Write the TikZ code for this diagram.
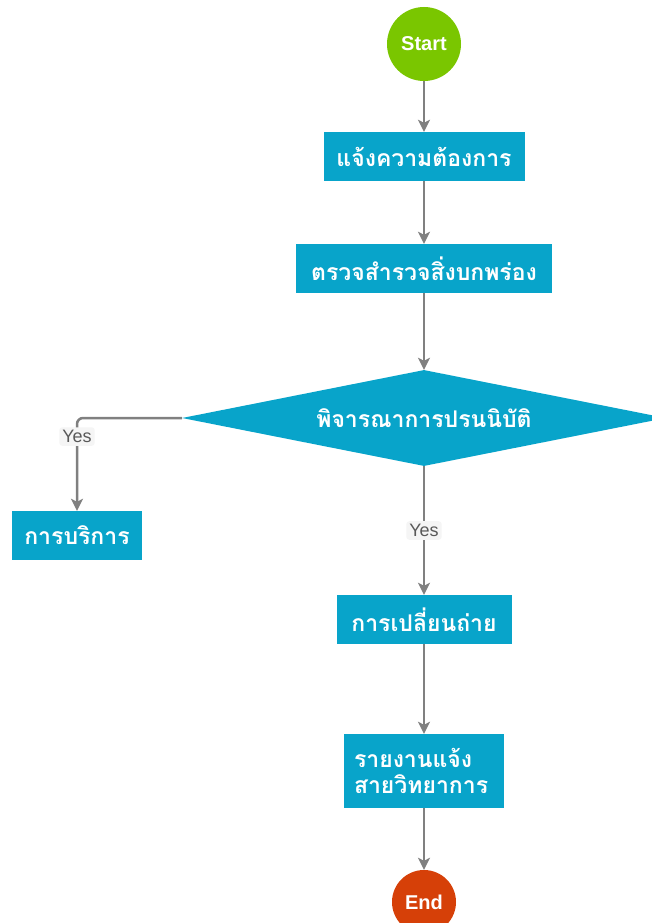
\documentclass[tikz,border=0pt]{standalone}
\usepackage{fontspec}
\setmainfont{Liberation Sans}
\newfontfamily\thaifont[Script=Thai]{Loma}
\usetikzlibrary{shapes.geometric,arrows.meta}
\definecolor{boxblue}{RGB}{8,164,202}
\definecolor{startgreen}{RGB}{122,198,0}
\definecolor{endred}{RGB}{214,64,8}
\definecolor{wiregray}{RGB}{128,128,128}
\begin{document}
\begin{tikzpicture}[x=1pt,y=-1pt]
			\tikzset{stepbox/.style={rectangle, fill=boxblue, text=white, inner sep=0pt, font=\thaifont\bfseries\fontsize{23}{26}\selectfont}}
			\tikzset{endpoint/.style={circle, text=white, inner sep=0pt, font=\bfseries\fontsize{20}{22}\selectfont}}
			\tikzset{wire/.style={draw=wiregray, line width=2.5pt, -{Stealth[length=12pt,width=12pt,inset=3pt]}}}
			\tikzset{yeslabel/.style={fill=gray!8, text=gray!70!black, rounded corners=3pt, inner sep=3pt, font=\fontsize{18}{20}\selectfont}}
			\useasboundingbox (0,0) rectangle (651,923);
			\fill[white] (0,0) rectangle (651,923);

			\draw (424,44) node [endpoint, fill=startgreen, minimum size=74pt] (START) {Start};
			\draw (424,156.5) node [stepbox, minimum width=201pt, minimum height=49pt] (BOX1) {แจ้งความต้องการ};
			\draw (424,268.5) node [stepbox, minimum width=256pt, minimum height=49pt] (BOX2) {ตรวจสำรวจสิ่งบกพร่อง};
			\draw (424,418) node [stepbox, diamond, aspect=5, minimum width=484pt, minimum height=96pt] (DEC1) {พิจารณาการปรนนิบัติ};
			\draw (77,535.5) node [stepbox, minimum width=130pt, minimum height=49pt] (BOX3) {การบริการ};
			\draw (424,619.5) node [stepbox, minimum width=175pt, minimum height=49pt] (BOX4) {การเปลี่ยนถ่าย};
			\draw (424,771) node [stepbox, align=left, text width=140pt, minimum width=160pt, minimum height=74pt] (BOX5) {รายงานแจ้ง\\สายวิทยาการ};
			\draw (424,902) node [endpoint, fill=endred, minimum size=64pt] (STOP) {End};

			\draw [wire] (START) -- (BOX1);
			\draw [wire] (BOX1) -- (BOX2);
			\draw [wire] (BOX2) -- (DEC1);
			\draw [wire, rounded corners=6pt] (DEC1.west) -| node [yeslabel, pos=0.6] {Yes} (BOX3.north);
			\draw [wire] (DEC1.south) -- node [yeslabel, pos=0.5] {Yes} (BOX4.north);
			\draw [wire] (BOX4) -- (BOX5);
			\draw [wire] (BOX5) -- (STOP);
		\end{tikzpicture}
\end{document}
